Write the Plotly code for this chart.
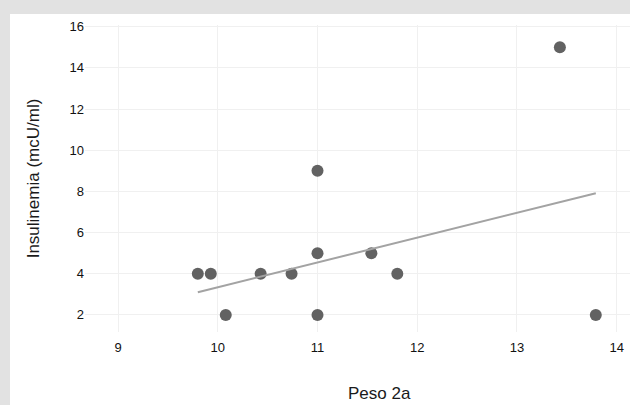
import plotly.graph_objects as go

# Weight at 2 years vs. insulin level
peso_2a = [9.8, 9.93, 10.08, 10.43, 10.74, 11.0, 11.0, 11.0, 11.54, 11.8, 13.43, 13.79]
insulinemia = [4, 4, 2, 4, 4, 9, 5, 2, 5, 4, 15, 2]

# Trend line end points
trend_x = [9.8, 13.79]
trend_y = [3.1, 7.91]

x_ticks = [9, 10, 11, 12, 13, 14]
y_ticks = [2, 4, 6, 8, 10, 12, 14, 16]

W, H = 630, 405
ML, MR, MT, MB = 85, 0, 25, 73
pw, ph = W - ML - MR, H - MT - MB


def px_to_paper_x(px):
    return (px - ML) / pw


def px_to_paper_y(py):
    return (H - MB - py) / ph


font = "Liberation Sans, Arial, Helvetica, sans-serif"

fig = go.Figure()
fig.add_trace(go.Scatter(
    x=peso_2a, y=insulinemia, mode="markers",
    marker=dict(size=12, color="#626262"),
    showlegend=False, hoverinfo="x+y",
))
fig.add_trace(go.Scatter(
    x=trend_x, y=trend_y, mode="lines",
    line=dict(color="#a3a3a3", width=2),
    showlegend=False, hoverinfo="skip",
))

# Grey frame with the white card on top of it
fig.add_shape(
    type="rect", xref="paper", yref="paper", layer="below",
    x0=px_to_paper_x(10), x1=px_to_paper_x(W + 5),
    y0=px_to_paper_y(H + 5), y1=px_to_paper_y(14),
    fillcolor="white", line=dict(width=0),
)

fig.add_annotation(
    text="Peso 2a", xref="paper", yref="paper",
    x=px_to_paper_x(379), y=px_to_paper_y(393),
    xanchor="center", yanchor="middle", showarrow=False,
    font=dict(family=font, size=17, color="#1a1a1a"),
)

fig.update_xaxes(
    range=[8.669, 14.133], tickvals=x_ticks,
    showgrid=True, gridcolor="#f0f0f0", gridwidth=1, zeroline=False,
    showline=False, ticks="outside", ticklen=3, tickcolor="rgba(0,0,0,0)",
    tickfont=dict(family=font, size=13, color="#111"),
)
fig.update_yaxes(
    range=[1.17, 16.08], tickvals=y_ticks,
    showgrid=True, gridcolor="#f0f0f0", gridwidth=1, zeroline=False,
    showline=False,
    tickfont=dict(family=font, size=13, color="#111"),
    title=dict(text="Insulinemia (mcU/ml)", font=dict(family=font, size=17, color="#1a1a1a"), standoff=25),
)

fig.update_layout(
    width=W, height=H,
    margin=dict(l=ML, r=MR, t=MT, b=MB),
    paper_bgcolor="#e2e2e2", plot_bgcolor="white",
    font=dict(family=font),
)

fig.write_html("out.html")
